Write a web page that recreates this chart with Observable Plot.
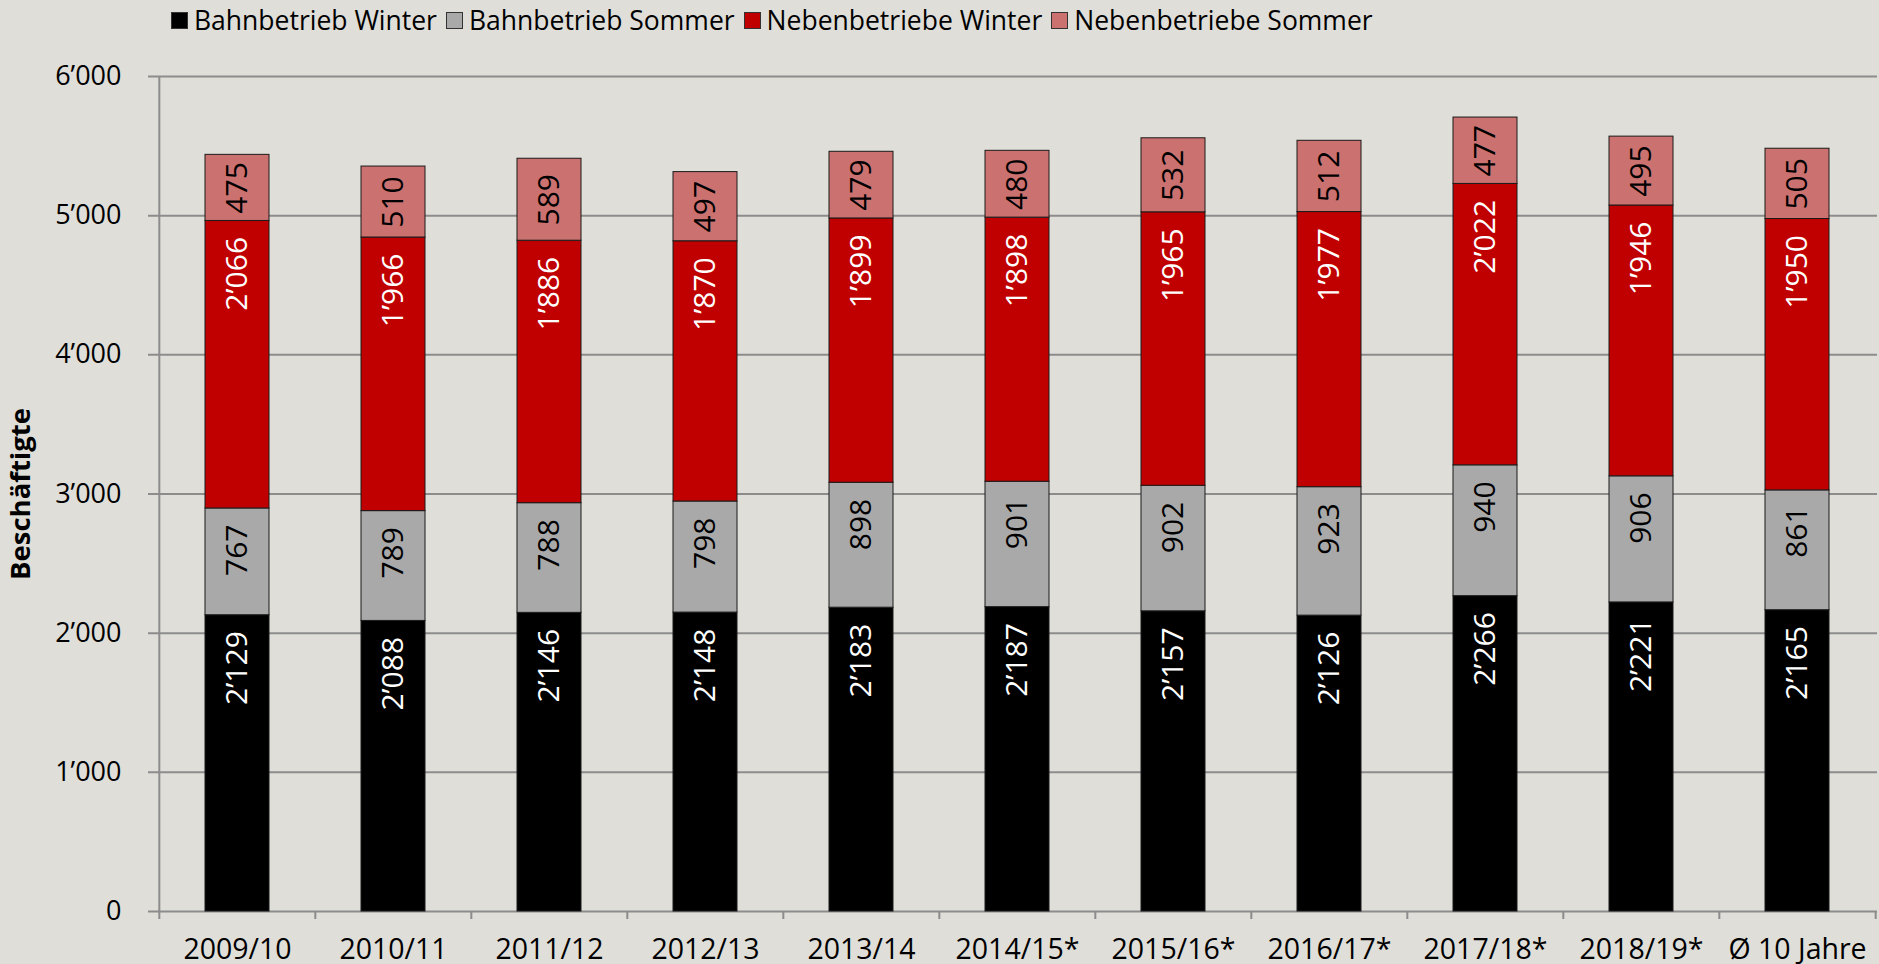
<!DOCTYPE html>
<html>
<head>
<meta charset="utf-8">
<script src="https://cdn.jsdelivr.net/npm/d3@7"></script>
<script src="https://cdn.jsdelivr.net/npm/@observablehq/plot@0.6"></script>
<style>
  html, body { margin: 0; padding: 0; background: #dfded8; }
  body { font-family: "Open Sans", sans-serif; width: 1879px; height: 964px; overflow: hidden; }
  #legend { height: 40px; display: flex; align-items: center; padding-left: 171px; font-size: 26.5px; color: #000; white-space: nowrap; }
  .item { display: flex; align-items: center; margin-right: 9px; }
  .sw { width: 15px; height: 15px; border: 1px solid #333; margin-right: 6px; box-sizing: content-box; }
  #chart svg { display: block; }
</style>
</head>
<body>
<div id="legend"></div>
<div id="chart"></div>
<script>
// ---- data ----
const seasons = ["2009/10", "2010/11", "2011/12", "2012/13", "2013/14", "2014/15*", "2015/16*", "2016/17*", "2017/18*", "2018/19*", "Ø 10 Jahre"];
const seriesNames = ["Bahnbetrieb Winter", "Bahnbetrieb Sommer", "Nebenbetriebe Winter", "Nebenbetriebe Sommer"];
const seriesColors = ["#000000", "#a9a9a9", "#c00000", "#cb716f"];
const labelColors = ["white", "black", "white", "black"];
const bahnWinter   = [2129, 2088, 2146, 2148, 2183, 2187, 2157, 2126, 2266, 2221, 2165];
const bahnSommer   = [767, 789, 788, 798, 898, 901, 902, 923, 940, 906, 861];
const nebenWinter  = [2066, 1966, 1886, 1870, 1899, 1898, 1965, 1977, 2022, 1946, 1950];
const nebenSommer  = [475, 510, 589, 497, 479, 480, 532, 512, 477, 495, 505];
const yTicks = [0, 1000, 2000, 3000, 4000, 5000, 6000];
const yLabel = "Beschäftigte";

// ---- build table ----
const seriesValues = [bahnWinter, bahnSommer, nebenWinter, nebenSommer];
const rows = [];
seasons.forEach((s, i) => {
  let acc = 0;
  seriesValues.forEach((vals, k) => {
    const v = vals[i];
    rows.push({season: s, series: seriesNames[k], k, value: v, y1: acc, y2: acc + v, mid: acc + v / 2});
    acc += v;
  });
});

const fmt = d3.formatLocale({decimal: ".", thousands: "’", grouping: [3], currency: ["", ""]}).format(",d");

// ---- legend ----
const legend = document.getElementById("legend");
seriesNames.forEach((n, k) => {
  const it = document.createElement("div");
  it.className = "item";
  const sw = document.createElement("span");
  sw.className = "sw";
  sw.style.background = seriesColors[k];
  const t = document.createElement("span");
  t.textContent = n;
  it.appendChild(sw); it.appendChild(t);
  legend.appendChild(it);
});

// ---- chart ----
const W = 1879, H = 924, mT = 36, mB = 53, mL = 157, mR = 2;
const step = (W - mL - mR) / seasons.length;
const frameH = H - mT - mB;
const gridColor = "#8c8c8c";

const chart = Plot.plot({
  width: W, height: H,
  marginTop: mT, marginBottom: mB, marginLeft: mL, marginRight: mR,
  style: {background: "transparent", fontFamily: "Open Sans", fontSize: "27px", color: "#000", overflow: "visible"},
  x: {domain: seasons, paddingInner: 0.59, paddingOuter: 0.295, tickSize: 0, tickPadding: 27, label: null},
  y: {domain: [0, 6000], ticks: yTicks, tickFormat: fmt, tickSize: 0, tickPadding: 36, label: null},
  color: {domain: seriesNames, range: seriesColors},
  marks: [
    Plot.ruleY(yTicks, {stroke: gridColor, strokeWidth: 2, insetLeft: -9}),
    Plot.ruleX([seasons[0]], {dx: -step / 2, stroke: gridColor, strokeWidth: 2, insetBottom: -8}),
    Plot.ruleX(seasons.slice(1), {dx: -step / 2, stroke: gridColor, strokeWidth: 2, insetTop: frameH, insetBottom: -8}),
    Plot.ruleX([seasons[seasons.length - 1]], {dx: step / 2, stroke: gridColor, strokeWidth: 2, insetTop: frameH, insetBottom: -8}),
    Plot.rectY(rows, {x: "season", y1: "y1", y2: "y2", fill: "series", stroke: "#1a1a1a", strokeWidth: 1}),
    Plot.text(rows.filter(d => d.k < 3), {
      x: "season", y: "y2", text: d => fmt(d.value), rotate: -90,
      textAnchor: "end", lineAnchor: "middle", dy: 16, fontSize: 30,
      fill: d => labelColors[d.k]
    }),
    Plot.text(rows.filter(d => d.k === 3), {
      x: "season", y: "mid", text: d => fmt(d.value), rotate: -90,
      textAnchor: "middle", lineAnchor: "middle", fontSize: 30, fill: "black"
    }),
    Plot.text([yLabel], {frameAnchor: "left", dx: -136, rotate: -90, textAnchor: "middle", lineAnchor: "middle", fontWeight: "bold", fontSize: 27.5, fill: "black"})
  ]
});
// x tick labels slightly larger
chart.querySelectorAll('[aria-label="x-axis"] text, [aria-label="x-axis tick label"] text').forEach(t => t.style.fontSize = "28.5px");
document.getElementById("chart").appendChild(chart);
</script>
</body>
</html>
